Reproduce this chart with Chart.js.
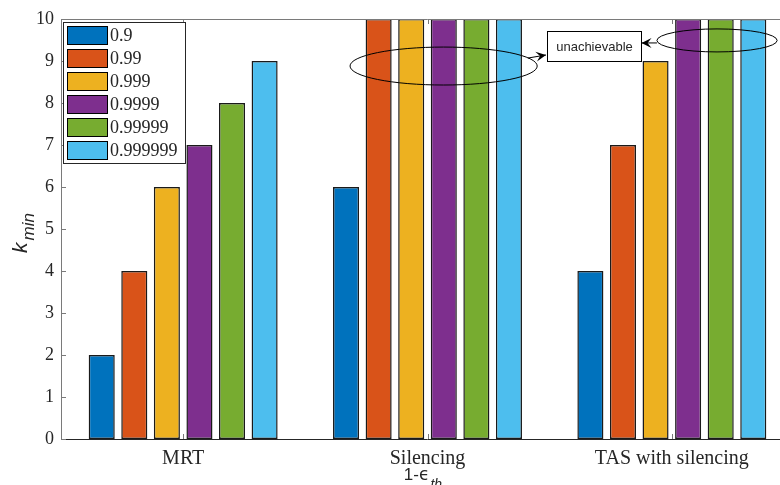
<!DOCTYPE html>
<html>
<head>
<meta charset="utf-8">
<script src="https://cdn.jsdelivr.net/npm/chart.js@4.4.1/dist/chart.umd.min.js"></script>
<style>
  html, body { margin: 0; padding: 0; background: #fff; overflow: hidden; }
  #wrap { width: 780px; height: 485px; overflow: hidden; position: relative; }
  #c { position: absolute; left: 0; top: 0; }
</style>
</head>
<body>
<div id="wrap"><canvas id="c" width="810" height="485"></canvas></div>
<script>
// data
const categories = ["MRT", "Silencing", "TAS with silencing"];
const seriesLabels = ["0.9", "0.99", "0.999", "0.9999", "0.99999", "0.999999"];
const kMin_0_9 = [2, 6, 4];
const kMin_0_99 = [4, 10, 7];
const kMin_0_999 = [6, 10, 9];
const kMin_0_9999 = [7, 10, 10];
const kMin_0_99999 = [8, 10, 10];
const kMin_0_999999 = [9, 10, 10];
const yTicks = [0, 1, 2, 3, 4, 5, 6, 7, 8, 9, 10];

const seriesData = [kMin_0_9, kMin_0_99, kMin_0_999, kMin_0_9999, kMin_0_99999, kMin_0_999999];
const colors = ["#0072BD", "#D95319", "#EDB120", "#7E2F8E", "#77AC30", "#4DBEEE"];

// annotation geometry in data units (x = category index, y = k_min)
const ellipseSil = { cx: 1.066, cy: 8.88, rx: 0.383, ry: 0.452 };
const ellipseTas = { cx: 2.185, cy: 9.49, rx: 0.246, ry: 0.274 };
const noteBox = { x0: 1.489, x1: 1.874, y0: 9.0, y1: 9.714, text: "unachievable" };
const arrows = [
  { from: [1.411, 9.07], to: [1.485, 9.143] },
  { from: [1.939, 9.43], to: [1.876, 9.43] },
];

const serif = "'Liberation Serif', 'Times New Roman', serif";
const sans = "'Liberation Sans', Arial, Helvetica, sans-serif";
const axisCol = "#262626";

function drawArrowHead(ctx, x1, y1, x2, y2) {
  const a = Math.atan2(y2 - y1, x2 - x1);
  const L = 10, W = 5, N = 6;
  ctx.save();
  ctx.translate(x2, y2);
  ctx.rotate(a);
  ctx.beginPath();
  ctx.moveTo(0, 0);
  ctx.lineTo(-L, -W);
  ctx.lineTo(-N, 0);
  ctx.lineTo(-L, W);
  ctx.closePath();
  ctx.fillStyle = "#000";
  ctx.fill();
  ctx.restore();
}

const decorations = {
  id: "decorations",
  afterDatasetsDraw(chart) {
    const { ctx, chartArea: ca, scales } = chart;
    const xs = scales.x, ys = scales.y;
    ctx.save();

    // box lines
    ctx.lineWidth = 1;
    ctx.strokeStyle = "#7a7a7a";
    ctx.beginPath();
    ctx.moveTo(ca.left + 0.5, ca.bottom);
    ctx.lineTo(ca.left + 0.5, ca.top + 0.5);
    ctx.lineTo(ca.right, ca.top + 0.5);
    ctx.stroke();
    ctx.strokeStyle = axisCol;
    ctx.beginPath();
    ctx.moveTo(ca.left, ca.bottom + 0.5);
    ctx.lineTo(ca.right, ca.bottom + 0.5);
    ctx.stroke();

    // inward ticks
    ctx.strokeStyle = "#7a7a7a";
    ctx.beginPath();
    yTicks.forEach(v => {
      const y = Math.round(ys.getPixelForValue(v)) + 0.5;
      ctx.moveTo(ca.left, y);
      ctx.lineTo(ca.left + 5, y);
    });
    categories.forEach((c, i) => {
      const x = Math.round(xs.getPixelForValue(i)) + 0.5;
      ctx.moveTo(x, ca.bottom);
      ctx.lineTo(x, ca.bottom - 5);
      ctx.moveTo(x, ca.top);
      ctx.lineTo(x, ca.top + 5);
    });
    ctx.stroke();

    // legend
    const lx = ca.left + 2, ly = ca.top + 3;
    ctx.fillStyle = "#fff";
    ctx.fillRect(lx, ly, 122, 141);
    ctx.strokeStyle = axisCol;
    ctx.strokeRect(lx + 0.5, ly + 0.5, 122, 141);
    ctx.font = "18px " + serif;
    ctx.textBaseline = "middle";
    ctx.textAlign = "left";
    chart.data.datasets.forEach((ds, i) => {
      const ry = ly + 4 + i * 23;
      ctx.fillStyle = ds.backgroundColor;
      ctx.fillRect(lx + 4, ry, 40, 18);
      ctx.strokeStyle = "#000";
      ctx.strokeRect(lx + 4.5, ry + 0.5, 40, 18);
      ctx.fillStyle = axisCol;
      ctx.fillText(ds.label, lx + 47, ry + 10);
    });

    // annotations
    const px = v => xs.getPixelForValue(v);
    const py = v => ys.getPixelForValue(v);
    ctx.strokeStyle = "#000";
    ctx.lineWidth = 1;
    [ellipseSil, ellipseTas].forEach(e => {
      const cx = px(e.cx), cy = py(e.cy);
      const rx = px(e.cx + e.rx) - cx, ry = cy - py(e.cy + e.ry);
      ctx.beginPath();
      ctx.ellipse(cx, cy, rx, ry, 0, 0, Math.PI * 2);
      ctx.stroke();
    });
    const bx0 = Math.round(px(noteBox.x0)) + 0.5, bx1 = Math.round(px(noteBox.x1)) + 0.5;
    const by0 = Math.round(py(noteBox.y1)) + 0.5, by1 = Math.round(py(noteBox.y0)) + 0.5;
    ctx.fillStyle = "#fff";
    ctx.fillRect(bx0, by0, bx1 - bx0, by1 - by0);
    ctx.strokeRect(bx0, by0, bx1 - bx0, by1 - by0);
    ctx.fillStyle = axisCol;
    ctx.font = "13px " + sans;
    ctx.textAlign = "center";
    ctx.textBaseline = "middle";
    ctx.fillText(noteBox.text, (bx0 + bx1) / 2, (by0 + by1) / 2 + 1);
    arrows.forEach(a => {
      const x1 = px(a.from[0]), y1 = py(a.from[1]);
      const x2 = px(a.to[0]), y2 = py(a.to[1]);
      ctx.beginPath();
      ctx.moveTo(x1, y1);
      ctx.lineTo(x2, y2);
      ctx.stroke();
      drawArrowHead(ctx, x1, y1, x2, y2);
    });

    // x title: 1-ϵ_th
    ctx.textAlign = "left";
    ctx.textBaseline = "alphabetic";
    ctx.fillStyle = axisCol;
    ctx.font = "17px " + sans;
    const w1 = ctx.measureText("1-").width;
    ctx.font = "17px 'DejaVu Sans', " + sans;
    const w2 = ctx.measureText("\u03F5").width;
    ctx.font = "italic 14px " + sans;
    const w3 = ctx.measureText("th").width;
    let tx = (ca.left + ca.right) / 2 - (w1 + w2 + w3) / 2 - 5;
    ctx.font = "17px " + sans;
    ctx.fillText("1-", tx, 480);
    ctx.font = "17px 'DejaVu Sans', " + sans;
    ctx.fillText("\u03F5", tx + w1, 480);
    ctx.font = "italic 14px " + sans;
    ctx.fillText("th", tx + w1 + w2 + 1, 489);

    // y title: k_min
    ctx.save();
    ctx.translate(27, 233);
    ctx.rotate(-Math.PI / 2);
    ctx.font = "italic 21px " + sans;
    const wk = ctx.measureText("k").width;
    ctx.font = "italic 17px " + sans;
    const wm = ctx.measureText("min").width;
    const sx = -(wk + wm + 2) / 2;
    ctx.font = "italic 21px " + sans;
    ctx.fillText("k", sx, 0);
    ctx.font = "italic 17px " + sans;
    ctx.fillText("min", sx + wk + 2, 7);
    ctx.restore();

    ctx.restore();
  }
};

new Chart(document.getElementById("c"), {
  type: "bar",
  data: {
    labels: categories,
    datasets: seriesData.map((d, i) => ({
      label: seriesLabels[i],
      data: d,
      backgroundColor: colors[i],
      borderColor: "#1a1a1a",
      borderWidth: 1.5,
      borderSkipped: false,
      inflateAmount: 0,
      categoryPercentage: 0.8,
      barPercentage: 0.8,
    })),
  },
  options: {
    responsive: false,
    animation: false,
    devicePixelRatio: 1,
    layout: { padding: { top: 19, right: 16, left: 0, bottom: 0 } },
    plugins: { legend: { display: false }, tooltip: { enabled: false } },
    scales: {
      x: {
        offset: true,
        grid: { display: false, drawTicks: false },
        border: { display: false },
        ticks: { color: axisCol, font: { family: serif, size: 20 }, padding: 8, maxRotation: 0 },
        afterFit: s => { s.height = 46; },
      },
      y: {
        min: 0, max: 10,
        grid: { display: false, drawTicks: false },
        border: { display: false },
        ticks: { color: axisCol, font: { family: serif, size: 18 }, padding: 7, stepSize: 1 },
        afterFit: s => { s.width = 61; },
      },
    },
  },
  plugins: [decorations],
});
</script>
</body>
</html>
